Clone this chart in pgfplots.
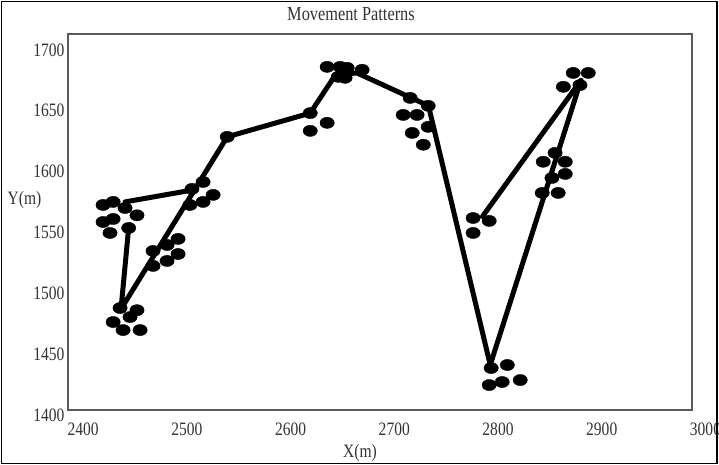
\documentclass[border=0pt]{standalone}
\usepackage{fontspec}
\setmainfont{Liberation Serif}[FakeStretch=0.82]
\usepackage{pgfplots}
\usepackage{pgfplotstable}
\pgfplotsset{compat=1.18}
\definecolor{txt}{HTML}{333333}
\definecolor{frm}{HTML}{5A5A5A}
\pgfplotstableread{
x y
2419.3 1572.5
2429 1575
2440.5 1570
2419.3 1558.5
2429 1561
2452 1564
2426 1549.5
2444 1553.6
2467.5 1534.7
2481 1539.6
2491.6 1544.6
2491.6 1532.2
2481 1526.5
2467.5 1522.4
2435.7 1487.8
2452 1486
2445.3 1480.4
2429 1476.3
2438.6 1469.7
2455 1469.7
2505 1585.7
2515.7 1591.4
2525.4 1580.8
2515.7 1575
2503 1572.5
2539 1628.5
2619 1648
2619 1633.4
2635.3 1640
2635.3 1686
2647.8 1686
2654.6 1685.2
2669 1683.6
2646 1677.8
2652.6 1677
2715.3 1660.5
2732.7 1654
2708.6 1646.5
2722 1646.5
2732.7 1636.7
2717.3 1631.7
2728 1622
2776 1561.8
2791.5 1559.4
2776 1549.5
2793.4 1438.5
2809 1441
2791.5 1424.5
2804 1427
2821.4 1428.6
2872.5 1681
2887 1681
2863 1669.6
2879 1671
2855 1615.3
2843.6 1608
2864.8 1608
2864.8 1598
2852 1594.7
2842.6 1582.4
2858 1582.4
}\points
\pgfplotstableread{
x y
2444 1554
2436.6 1487
2539 1628.5
2619 1648
2643 1679
2664 1681
2733 1654
2792.5 1441
2880 1675
2785 1563
}\pathmain
\pgfplotstableread{
x y
2440.5 1575
2507 1585
}\pathside
\begin{document}
\begin{tikzpicture}
\useasboundingbox (0,0) rectangle (719bp,465bp);
\draw[line width=1.6bp] (1.5bp,1.5bp) rectangle (717bp,463.5bp);
\begin{axis}[
  at={(68bp,55bp)}, anchor=south west,
  scale only axis, width=624bp, height=376bp,
  xmin=2385.5, xmax=2987, ymin=1404, ymax=1713,
  xtick={2400,2500,...,2900}, ytick={1450,1500,...,1700},
  major tick length=0pt,
  axis line style={draw=frm, line width=1.6bp},
  tick label style={font=\fontsize{19}{22}\selectfont, text=txt},
  xticklabel style={yshift=-9bp},
  /pgf/number format/assume math mode=true,
  /pgf/number format/set thousands separator={},
  clip=false,
  title={Movement Patterns},
  xlabel={X(m)}, ylabel={Y(m)},
  every axis title/.style={at={(axis description cs:0.4535,1.0532)}, anchor=center, font=\fontsize{20}{24}\selectfont, text=txt},
  every axis x label/.style={at={(axis description cs:0.468,-0.114)}, anchor=center, font=\fontsize{19}{22}\selectfont, text=txt},
  every axis y label/.style={at={(axis description cs:-0.0697,0.558)}, anchor=center, font=\fontsize{19}{22}\selectfont, text=txt},
]
\addplot[black, line width=5bp, line join=round, line cap=round, no marks] table {\pathmain};
\addplot[black, line width=5bp, line join=round, line cap=round, no marks] table {\pathside};
\addplot[only marks, mark=*, mark size=5.6bp, mark options={xscale=1.28, fill=black, draw=black}] table {\points};
\node[anchor=east, font=\fontsize{19}{22}\selectfont, text=txt] at (axis cs:2385.5,1400) {1400};
\node[anchor=north, yshift=-9bp, font=\fontsize{19}{22}\selectfont, text=txt] at (axis cs:3000,1404) {3000};
\end{axis}
\end{tikzpicture}
\end{document}
